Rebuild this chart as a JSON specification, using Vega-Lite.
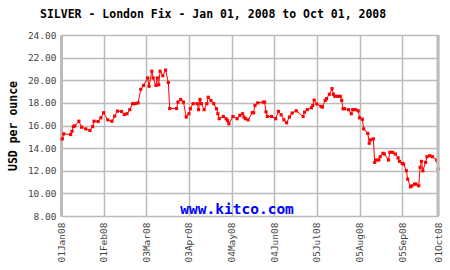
{
  "$schema": "https://vega.github.io/schema/vega-lite/v6.json",
  "width": 377,
  "height": 181,
  "autosize": {"type": "none"},
  "padding": {"left": 61, "top": 35, "right": 12, "bottom": 54},
  "background": "white",
  "title": {
    "text": "SILVER - London Fix - Jan 01, 2008 to Oct 01, 2008",
    "anchor": "start",
    "frame": "group",
    "dx": -21,
    "offset": 1,
    "baseline": "alphabetic",
    "font": "DejaVu Sans Mono",
    "fontSize": 11.5,
    "fontWeight": "bold",
    "color": "#000000"
  },
  "data": {
    "values": [
      {"d": "2008-01-02", "p": 14.82}, {"d": "2008-01-03", "p": 15.26}, {"d": "2008-01-08", "p": 15.20},
      {"d": "2008-01-09", "p": 15.49}, {"d": "2008-01-10", "p": 15.90}, {"d": "2008-01-11", "p": 15.97},
      {"d": "2008-01-14", "p": 16.38}, {"d": "2008-01-16", "p": 15.85}, {"d": "2008-01-19", "p": 15.70},
      {"d": "2008-01-22", "p": 15.56}, {"d": "2008-01-24", "p": 15.90}, {"d": "2008-01-25", "p": 16.38},
      {"d": "2008-01-28", "p": 16.36}, {"d": "2008-01-30", "p": 16.68}, {"d": "2008-02-01", "p": 17.13},
      {"d": "2008-02-04", "p": 16.50}, {"d": "2008-02-07", "p": 16.38}, {"d": "2008-02-09", "p": 16.83},
      {"d": "2008-02-11", "p": 17.27}, {"d": "2008-02-14", "p": 17.24}, {"d": "2008-02-16", "p": 16.98},
      {"d": "2008-02-18", "p": 17.04}, {"d": "2008-02-20", "p": 17.40}, {"d": "2008-02-22", "p": 17.93},
      {"d": "2008-02-24", "p": 17.93}, {"d": "2008-02-26", "p": 18.00}, {"d": "2008-02-28", "p": 19.20},
      {"d": "2008-03-01", "p": 19.55}, {"d": "2008-03-04", "p": 20.20}, {"d": "2008-03-05", "p": 19.47},
      {"d": "2008-03-07", "p": 20.80}, {"d": "2008-03-08", "p": 20.20}, {"d": "2008-03-10", "p": 19.55},
      {"d": "2008-03-11", "p": 20.20}, {"d": "2008-03-12", "p": 19.60}, {"d": "2008-03-13", "p": 20.80},
      {"d": "2008-03-15", "p": 20.40}, {"d": "2008-03-17", "p": 20.90}, {"d": "2008-03-19", "p": 19.80},
      {"d": "2008-03-20", "p": 17.50}, {"d": "2008-03-25", "p": 17.50}, {"d": "2008-03-26", "p": 18.07},
      {"d": "2008-03-28", "p": 18.30}, {"d": "2008-03-30", "p": 18.07}, {"d": "2008-04-01", "p": 16.75},
      {"d": "2008-04-03", "p": 17.04}, {"d": "2008-04-04", "p": 17.48}, {"d": "2008-04-06", "p": 17.93},
      {"d": "2008-04-09", "p": 17.93}, {"d": "2008-04-10", "p": 17.40}, {"d": "2008-04-11", "p": 18.30},
      {"d": "2008-04-12", "p": 17.93}, {"d": "2008-04-14", "p": 17.40}, {"d": "2008-04-16", "p": 17.93},
      {"d": "2008-04-17", "p": 18.50}, {"d": "2008-04-19", "p": 18.20}, {"d": "2008-04-21", "p": 17.93},
      {"d": "2008-04-23", "p": 17.48}, {"d": "2008-04-24", "p": 17.04}, {"d": "2008-04-25", "p": 16.60},
      {"d": "2008-04-28", "p": 16.80}, {"d": "2008-04-30", "p": 16.60}, {"d": "2008-05-01", "p": 16.44},
      {"d": "2008-05-02", "p": 16.15}, {"d": "2008-05-05", "p": 16.80}, {"d": "2008-05-08", "p": 16.60},
      {"d": "2008-05-10", "p": 16.90}, {"d": "2008-05-12", "p": 17.04}, {"d": "2008-05-13", "p": 16.74},
      {"d": "2008-05-14", "p": 16.60}, {"d": "2008-05-16", "p": 16.50}, {"d": "2008-05-19", "p": 17.13},
      {"d": "2008-05-20", "p": 17.13}, {"d": "2008-05-21", "p": 17.78}, {"d": "2008-05-23", "p": 18.00},
      {"d": "2008-05-27", "p": 18.07}, {"d": "2008-05-28", "p": 18.07}, {"d": "2008-05-29", "p": 17.20},
      {"d": "2008-05-30", "p": 16.80}, {"d": "2008-06-02", "p": 16.80}, {"d": "2008-06-05", "p": 16.60},
      {"d": "2008-06-07", "p": 17.25}, {"d": "2008-06-09", "p": 16.95}, {"d": "2008-06-11", "p": 16.50},
      {"d": "2008-06-13", "p": 16.24}, {"d": "2008-06-15", "p": 16.75}, {"d": "2008-06-17", "p": 17.10},
      {"d": "2008-06-20", "p": 17.30}, {"d": "2008-06-25", "p": 16.80}, {"d": "2008-06-26", "p": 17.18},
      {"d": "2008-06-28", "p": 17.40}, {"d": "2008-07-01", "p": 17.57}, {"d": "2008-07-02", "p": 17.78},
      {"d": "2008-07-03", "p": 18.25}, {"d": "2008-07-05", "p": 17.90}, {"d": "2008-07-08", "p": 17.69},
      {"d": "2008-07-09", "p": 17.63}, {"d": "2008-07-11", "p": 18.22}, {"d": "2008-07-12", "p": 18.37},
      {"d": "2008-07-14", "p": 18.76}, {"d": "2008-07-16", "p": 19.26}, {"d": "2008-07-17", "p": 18.76},
      {"d": "2008-07-18", "p": 18.58}, {"d": "2008-07-20", "p": 18.58}, {"d": "2008-07-22", "p": 18.58},
      {"d": "2008-07-23", "p": 18.22}, {"d": "2008-07-24", "p": 17.48}, {"d": "2008-07-25", "p": 17.48},
      {"d": "2008-07-28", "p": 17.40}, {"d": "2008-07-30", "p": 17.04}, {"d": "2008-07-31", "p": 17.40},
      {"d": "2008-08-02", "p": 17.40}, {"d": "2008-08-04", "p": 17.30}, {"d": "2008-08-05", "p": 16.68},
      {"d": "2008-08-07", "p": 16.55}, {"d": "2008-08-08", "p": 15.70}, {"d": "2008-08-11", "p": 15.30},
      {"d": "2008-08-12", "p": 14.43}, {"d": "2008-08-13", "p": 14.73}, {"d": "2008-08-15", "p": 14.82},
      {"d": "2008-08-16", "p": 12.74}, {"d": "2008-08-17", "p": 12.95}, {"d": "2008-08-19", "p": 12.95},
      {"d": "2008-08-20", "p": 13.24}, {"d": "2008-08-22", "p": 13.54}, {"d": "2008-08-23", "p": 13.48},
      {"d": "2008-08-26", "p": 12.95}, {"d": "2008-08-27", "p": 13.63}, {"d": "2008-08-29", "p": 13.63},
      {"d": "2008-08-31", "p": 13.48}, {"d": "2008-09-02", "p": 13.13}, {"d": "2008-09-03", "p": 12.83},
      {"d": "2008-09-05", "p": 12.65}, {"d": "2008-09-06", "p": 12.59}, {"d": "2008-09-08", "p": 12.00},
      {"d": "2008-09-09", "p": 11.26}, {"d": "2008-09-11", "p": 10.58}, {"d": "2008-09-12", "p": 10.67},
      {"d": "2008-09-14", "p": 10.82}, {"d": "2008-09-15", "p": 10.82}, {"d": "2008-09-17", "p": 10.67},
      {"d": "2008-09-18", "p": 12.30}, {"d": "2008-09-19", "p": 12.83}, {"d": "2008-09-20", "p": 12.00},
      {"d": "2008-09-22", "p": 12.74}, {"d": "2008-09-23", "p": 13.24}, {"d": "2008-09-25", "p": 13.33},
      {"d": "2008-09-27", "p": 13.24}, {"d": "2008-09-30", "p": 12.95}, {"d": "2008-10-01", "p": 12.15}
    ]
  },
  "layer": [
    {
      "mark": {
        "type": "line",
        "color": "#ff0000",
        "strokeWidth": 1,
        "point": {"shape": "square", "size": 10, "color": "#ff0000", "filled": true, "opacity": 1}
      },
      "encoding": {
        "x": {
          "field": "d",
          "type": "temporal",
          "scale": {
            "type": "utc",
            "domain": [
              {"year": 2008, "month": 1, "date": 1, "utc": true},
              {"year": 2008, "month": 10, "date": 1, "utc": true}
            ]
          },
          "axis": {
            "title": null,
            "values": [
              {"year": 2008, "month": 1, "date": 1, "utc": true},
              {"year": 2008, "month": 2, "date": 1, "utc": true},
              {"year": 2008, "month": 3, "date": 3, "utc": true},
              {"year": 2008, "month": 4, "date": 3, "utc": true},
              {"year": 2008, "month": 5, "date": 4, "utc": true},
              {"year": 2008, "month": 6, "date": 4, "utc": true},
              {"year": 2008, "month": 7, "date": 5, "utc": true},
              {"year": 2008, "month": 8, "date": 5, "utc": true},
              {"year": 2008, "month": 9, "date": 5, "utc": true},
              {"year": 2008, "month": 10, "date": 1, "utc": true}
            ],
            "labelExpr": "utcFormat(datum.value, '%d%b%y')",
            "labelAngle": 270,
            "labelAlign": "right",
            "labelBaseline": "middle",
            "labelPadding": 6,
            "domain": false,
            "ticks": false,
            "labelOverlap": false,
            "labelFlush": false
          }
        },
        "y": {
          "field": "p",
          "type": "quantitative",
          "scale": {"domain": [8, 24], "nice": false, "zero": false},
          "axis": {
            "title": "USD per ounce",
            "values": [8, 10, 12, 14, 16, 18, 20, 22, 24],
            "tickCount": 9,
            "format": ".2f",
            "labelOverlap": false,
            "labelFlush": false,
            "labelPadding": 5,
            "titlePadding": 9,
            "titleFont": "DejaVu Sans Mono",
            "titleFontSize": 11.5,
            "titleFontWeight": "bold",
            "titleColor": "#000000",
            "domain": true,
            "domainColor": "#bbbbbb",
            "domainWidth": 3,
            "ticks": false
          }
        }
      }
    },
    {
      "data": {"values": [{}]},
      "mark": {
        "type": "text",
        "text": "www.kitco.com",
        "color": "#0000ff",
        "font": "DejaVu Sans Mono",
        "fontSize": 14.5,
        "fontWeight": "bold",
        "align": "center",
        "baseline": "alphabetic"
      },
      "encoding": {
        "x": {"datum": {"year": 2008, "month": 5, "date": 8, "utc": true}, "type": "temporal"},
        "y": {
          "datum": 8.15,
          "type": "quantitative",
          "axis": {
            "title": "USD per ounce",
            "values": [8, 10, 12, 14, 16, 18, 20, 22, 24],
            "tickCount": 9,
            "format": ".2f",
            "labelOverlap": false,
            "labelFlush": false,
            "labelPadding": 5,
            "titlePadding": 9,
            "titleFont": "DejaVu Sans Mono",
            "titleFontSize": 11.5,
            "titleFontWeight": "bold",
            "titleColor": "#000000",
            "domain": true,
            "domainColor": "#bbbbbb",
            "domainWidth": 3,
            "ticks": false
          }
        }
      }
    },
    {
      "data": {"values": [{}]},
      "mark": {"type": "rule", "color": "#bbbbbb", "strokeWidth": 3},
      "encoding": {
        "x": {"datum": {"year": 2008, "month": 10, "date": 1, "utc": true}, "type": "temporal"}
      }
    }
  ],
  "config": {
    "view": {"stroke": null},
    "axis": {
      "labelFont": "DejaVu Sans Mono",
      "labelFontSize": 9.5,
      "labelColor": "#444444",
      "grid": true,
      "gridColor": "#bbbbbb",
      "gridWidth": 1.5,
      "gridOpacity": 1
    }
  }
}
